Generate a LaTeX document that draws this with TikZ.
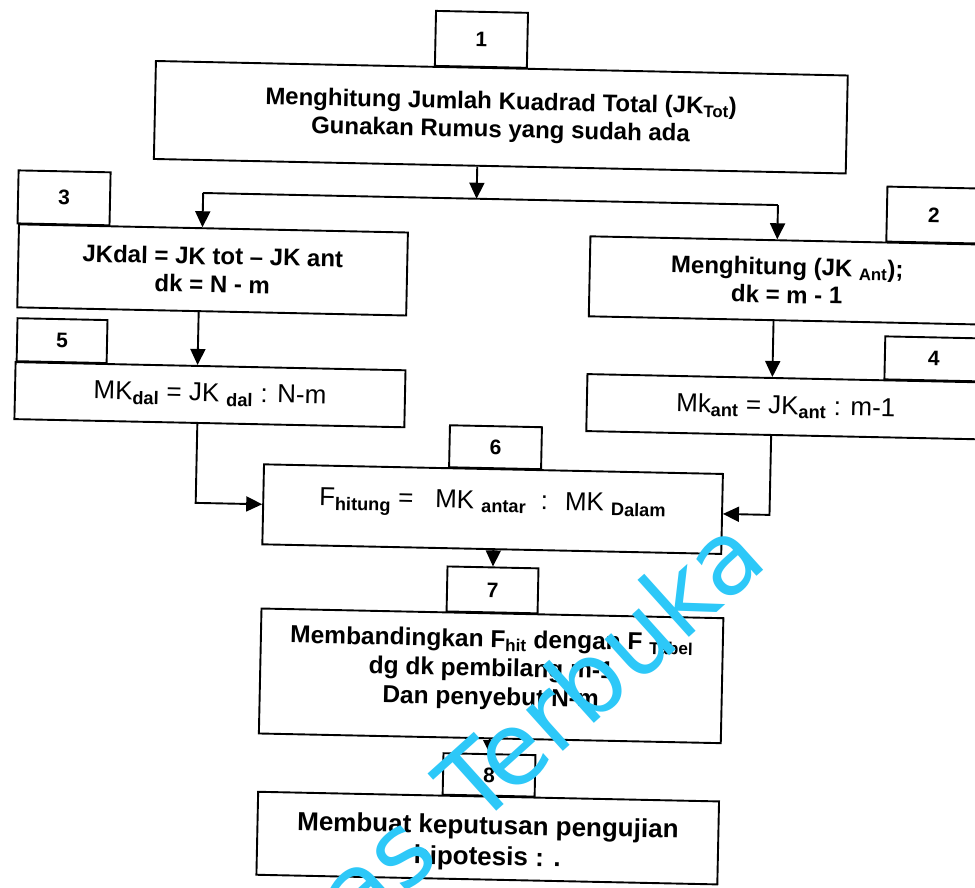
\documentclass[tikz,border=0pt]{standalone}
\usepackage{fontspec}
\setmainfont{Liberation Sans}
\newfontfamily\wmfont{DejaVu Sans}
\usetikzlibrary{arrows.meta,calc}
\definecolor{wm}{RGB}{45,200,248}
\newcommand\sbs[1]{\textsubscript{\bfseries #1}}
\begin{document}
\begin{tikzpicture}[x=1pt,y=-1pt,
  box/.style={draw, line width=1.9pt, align=center, inner sep=0pt, font=\bfseries\fontsize{24}{28}\selectfont},
  rbox/.style={box, font=\fontsize{26}{30}\selectfont},
  txt/.style={align=center, inner sep=0pt, font=\bfseries\fontsize{24.5}{29}\selectfont},
  rtxt/.style={txt, font=\fontsize{26}{30}\selectfont},
  tab/.style={draw, line width=1.9pt, inner sep=0pt, anchor=south, font=\bfseries\fontsize{21}{24}\selectfont},
  arr/.style={line width=1.9pt, -{Triangle[width=15pt,length=16pt]}},
  sarr/.style={line width=1.9pt, -{Triangle[width=13pt,length=13pt]}},
  ln/.style={line width=1.9pt},
  wmark/.style={text=wm, font=\wmfont\fontsize{101}{110}\selectfont, inner sep=0pt}]
\useasboundingbox (0,0) rectangle (975,887);
\clip (0,0) rectangle (975,887);
\fill[white] (0,0) rectangle (975,887);
\begin{scope}[rotate around={-1.2:(487,443)}, transform shape]
% boxes
\node[box, minimum width=692pt, minimum height=98pt] (b1) at (494,117) {Menghitung Jumlah Kuadrad Total (JK\sbs{Tot})\\Gunakan Rumus yang sudah ada};
\node[tab, minimum width=92pt, minimum height=55pt] (t1) at (473,68) {1};
\node[box, minimum width=389pt, minimum height=83pt] (b3) at (209,275.7) {JKdal = JK tot -- JK ant\\dk = N - m};
\node[tab, minimum width=92pt, minimum height=53pt] (t3) at (59,234.2) {3};
\node[rbox, minimum width=390pt, minimum height=57pt] (b5) at (209,400.5) {MK\sbs{dal} = JK \sbs{dal} : N-m};
\node[tab, minimum width=90pt, minimum height=43pt] (t5) at (60,372) {5};
\node[box, minimum width=395pt, minimum height=80pt] (b2) at (783.6,274.2) {Menghitung (JK \sbs{Ant});\\dk = m - 1};
\node[tab, minimum width=94pt, minimum height=55pt] (t2) at (929,234.2) {2};
\node[rbox, minimum width=398pt, minimum height=57pt] (b4) at (785,400.5) {Mk\sbs{ant} = JK\sbs{ant} : m-1};
\node[tab, minimum width=98pt, minimum height=43pt] (t4) at (932,372) {4};
\node[rbox, minimum width=459pt, minimum height=80pt,
  label={[rtxt, yshift=5pt]center:{F\sbs{hitung} = \ \ MK \sbs{antar} \ : \ MK \sbs{Dalam}}}] (b6) at (494,509) {};
\node[tab, minimum width=92pt, minimum height=42pt] (t6) at (495.6,469) {6};
\node[box, minimum width=462pt, minimum height=125pt,
  label={[txt, yshift=6pt]center:{Membandingkan F\sbs{hit} dengan F \sbs{Tabel}\\dg dk pembilang m-1\\Dan penyebut N-m}}] (b7) at (496,675.7) {};
\node[tab, minimum width=91pt, minimum height=45pt] (t7) at (495.6,613.2) {7};
\node[box, minimum width=461pt, minimum height=83pt,
  label={[txt, font=\bfseries\fontsize{26}{31}\selectfont, yshift=-5pt]center:{Membuat keputusan pengujian\\hipotesis : .}}] (b8) at (496,838) {};
\node[tab, minimum width=92pt, minimum height=41.5pt] (t8) at (496,796.5) {8};
% connectors
\coordinate (j) at (471.5,199);
\coordinate (jl) at (198,199);
\coordinate (jr) at (773,199);
\coordinate (c35) at (196,0);
\coordinate (c56) at (197,0);
\coordinate (c24) at (771,0);
\draw[arr] (j |- b1.south) -- (j);
\draw[ln] (jl) -- (jr);
\draw[arr] (jl) -- (jl |- b3.north);
\draw[arr] (jr) -- (jr |- b2.north);
\draw[arr] (c35 |- b3.south) -- (c35 |- b5.north);
\draw[arr] (c24 |- b2.south) -- (c24 |- b4.north);
\draw[arr] (c56 |- b5.south) |- (b6.west);
\draw[arr] (c24 |- b4.south) |- (b6.east);
\draw[arr] (t7.north |- b6.south) -- (t7.north);
\draw[sarr] (t8.north |- b7.south) -- (t8.north);
\end{scope}
% watermark
\node[wmark, rotate=42, anchor=base west] (wm) at (357,937) {as\hspace{15pt} Terbuka};
\end{tikzpicture}
\end{document}
